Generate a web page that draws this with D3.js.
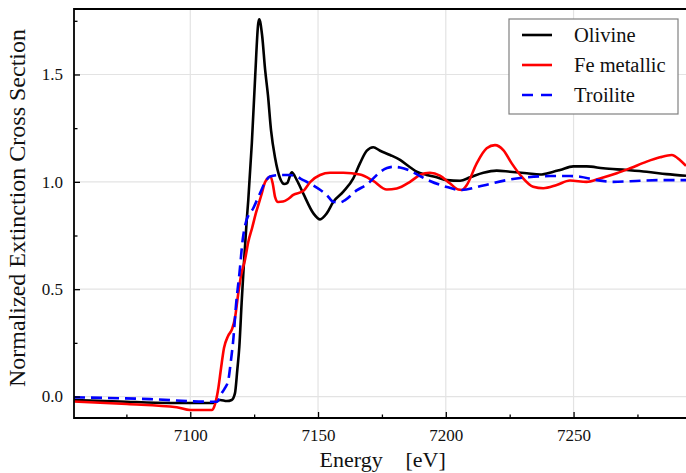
<!DOCTYPE html>
<html><head><meta charset="utf-8">
<script src="https://cdn.jsdelivr.net/npm/d3@7/dist/d3.min.js"></script>
<style>body{margin:0;background:#fff} svg{display:block}</style>
</head><body><svg id="c" width="686" height="473"></svg>
<script>
const olivineE = [7054.5,7072.5,7092.1,7103.8,7108.9,7111.7,7114.3,7116.2,7117.5,7118.4,7119.2,7120.1,7121.0,7122.1,7122.7,7124.1,7125.4,7126.6,7127.0,7128.1,7129.3,7130.4,7131.6,7133.2,7135.1,7136.8,7137.9,7139.7,7141.7,7144.2,7148.2,7150.8,7153.4,7156.0,7159.9,7163.8,7166.4,7169.1,7171.6,7174.3,7178.2,7182.1,7186.0,7188.6,7192.5,7196.4,7200.4,7205.6,7209.5,7214.7,7219.9,7225.1,7231.7,7236.9,7242.1,7244.7,7249.9,7255.1,7261.6,7270.8,7278.6,7286.4,7294.0];
const olivineV = [-0.016,-0.023,-0.030,-0.030,-0.030,-0.016,-0.021,-0.016,0.016,0.123,0.232,0.436,0.622,0.822,0.915,1.181,1.490,1.738,1.757,1.684,1.521,1.404,1.241,1.111,1.018,0.990,0.994,1.044,1.008,0.946,0.853,0.825,0.853,0.907,0.954,1.016,1.086,1.145,1.161,1.145,1.125,1.102,1.068,1.047,1.032,1.021,1.008,1.005,1.021,1.042,1.052,1.047,1.040,1.034,1.047,1.055,1.072,1.072,1.063,1.055,1.047,1.036,1.028];
const feE = [7054.5,7075.2,7094.7,7099.9,7108.4,7109.7,7111.0,7112.05,7113.2,7114.8,7116.35,7117.5,7118.7,7119.9,7121.4,7122.7,7124.2,7125.7,7127.7,7129.3,7130.4,7131.4,7132.3,7133.2,7134.35,7136.3,7138.3,7140.3,7144.2,7146.9,7150.8,7154.7,7159.9,7166.4,7171.6,7176.9,7180.8,7186.0,7189.9,7193.8,7197.7,7201.6,7204.9,7206.3,7208.2,7212.1,7216.0,7219.25,7222.5,7225.8,7229.7,7234.2,7238.15,7243.4,7248.6,7255.1,7260.3,7266.9,7272.1,7278.6,7283.8,7288.4,7291.6,7294.0];
const feV = [-0.023,-0.035,-0.050,-0.063,-0.063,-0.035,0.040,0.133,0.226,0.282,0.314,0.366,0.473,0.566,0.636,0.720,0.785,0.855,0.934,0.999,1.018,1.025,0.990,0.929,0.906,0.908,0.920,0.939,0.957,0.999,1.032,1.042,1.042,1.034,1.004,0.964,0.969,1.000,1.032,1.042,1.029,0.993,0.964,0.962,0.985,1.086,1.156,1.171,1.148,1.086,1.024,0.977,0.970,0.985,1.006,1.000,1.016,1.040,1.063,1.094,1.114,1.125,1.102,1.074];
const troiliteE = [7054.5,7084.3,7106.5,7110.4,7112.3,7113.6,7114.9,7115.85,7116.9,7117.9,7119.3,7120.5,7121.8,7124.7,7127.3,7129.3,7131.2,7135.1,7139.0,7141.7,7144.2,7146.9,7149.5,7153.4,7156.0,7158.6,7160.6,7165.1,7169.1,7170.3,7174.3,7177.0,7179.5,7182.1,7186.0,7189.9,7193.8,7200.4,7205.6,7214.7,7223.8,7231.7,7240.8,7248.6,7252.5,7259.0,7265.5,7276.0,7283.8,7294.0];
const troiliteV = [-0.004,-0.012,-0.024,-0.024,0.016,0.040,0.077,0.161,0.273,0.426,0.580,0.729,0.813,0.878,0.947,0.999,1.025,1.032,1.032,1.024,1.008,0.992,0.973,0.939,0.907,0.904,0.915,0.960,0.988,1.000,1.046,1.064,1.070,1.067,1.052,1.027,1.004,0.976,0.962,0.983,1.008,1.021,1.027,1.027,1.024,1.008,1.000,1.005,1.008,1.008];

const seriesNames = ["Olivine", "Fe metallic", "Troilite"];
const seriesColors = ["#000000", "#ff0000", "#0000ff"];
const xMajorTicks = [7100, 7150, 7200, 7250];
const xMinorTicks = [7075, 7125, 7175, 7225, 7275];
const yMajorTicks = [0.0, 0.5, 1.0, 1.5];
const yMinorTicks = [0.25, 0.75, 1.25, 1.75];
const xTitle = ["Energy", "[eV]"];
const yTitle = "Normalized Extinction Cross Section";

const series = [
  {name: seriesNames[0], color: seriesColors[0], dash: null, pts: olivineE.map((e,i)=>[e, olivineV[i]])},
  {name: seriesNames[1], color: seriesColors[1], dash: null, pts: feE.map((e,i)=>[e, feV[i]])},
  {name: seriesNames[2], color: seriesColors[2], dash: "11,6", pts: troiliteE.map((e,i)=>[e, troiliteV[i]])}
];

const svg = d3.select("#c");
const L = 74, R = 686, T = 9, B = 418;
const font = "'Liberation Serif', 'Times New Roman', serif";
const x = d3.scaleLinear().domain([7054.5, 7294.0]).range([L, R]);
const y = d3.scaleLinear().domain([-0.1, 1.805]).range([B, T]);

// grid
const grid = svg.append("g");
grid.selectAll("line.gx").data(xMajorTicks).join("line")
  .attr("x1", d=>x(d)).attr("x2", d=>x(d)).attr("y1", T).attr("y2", B)
  .attr("stroke", "#e3e3e3").attr("stroke-width", 1.2);
grid.selectAll("line.gy").data(yMajorTicks).join("line")
  .attr("x1", L).attr("x2", R).attr("y1", d=>y(d)).attr("y2", d=>y(d))
  .attr("stroke", "#e3e3e3").attr("stroke-width", 1.2);

svg.append("clipPath").attr("id", "clip").append("rect")
  .attr("x", L).attr("y", T).attr("width", R - L).attr("height", B - T);

const line = d3.line().x(d=>x(d[0])).y(d=>y(d[1])).curve(d3.curveMonotoneX);
const lines = svg.append("g").attr("clip-path", "url(#clip)");
series.forEach(s => {
  lines.append("path").datum(s.pts).attr("d", line)
    .attr("fill", "none").attr("stroke", s.color).attr("stroke-width", 2.6)
    .attr("stroke-linejoin", "round")
    .attr("stroke-dasharray", s.dash);
});

// axes (ticks inward)
const xAxis = d3.axisBottom(x).tickValues(xMajorTicks).tickSize(-6).tickPadding(11).tickFormat(d3.format("d"));
const xAxisMinor = d3.axisBottom(x).tickValues(xMinorTicks).tickSize(-3.5).tickFormat("");
const yAxis = d3.axisLeft(y).tickValues(yMajorTicks).tickSize(-6).tickPadding(11).tickFormat(d3.format(".1f"));
const yAxisMinor = d3.axisLeft(y).tickValues(yMinorTicks).tickSize(-3.5).tickFormat("");

function style(g) {
  g.select(".domain").remove();
  g.selectAll("line").attr("stroke", "#000").attr("stroke-width", 1.3);
  g.selectAll("text").attr("font-family", font).attr("font-size", 17).attr("fill", "#111");
}
svg.append("g").attr("transform", `translate(0,${B})`).call(xAxis).call(style);
svg.append("g").attr("transform", `translate(0,${B})`).call(xAxisMinor).call(style);
svg.append("g").attr("transform", `translate(${L},0)`).call(yAxis).call(style);
svg.append("g").attr("transform", `translate(${L},0)`).call(yAxisMinor).call(style);

// spines
svg.append("path").attr("d", `M${R+2},${T}H${L}V${B}H${R+2}`)
  .attr("fill", "none").attr("stroke", "#000").attr("stroke-width", 1.8);

// axis titles
svg.append("text").attr("x", 319.6).attr("y", 467).attr("font-family", font).attr("font-size", 22)
  .attr("fill", "#111").text(xTitle[0]);
svg.append("text").attr("x", 405.5).attr("y", 467).attr("font-family", font).attr("font-size", 22)
  .attr("fill", "#111").text(xTitle[1]);
svg.append("text").attr("transform", "translate(25,208) rotate(-90)").attr("text-anchor", "middle")
  .attr("font-family", font).attr("font-size", 24).attr("fill", "#111").text(yTitle);

// legend
const lg = svg.append("g");
lg.append("rect").attr("x", 509).attr("y", 19).attr("width", 169).attr("height", 95)
  .attr("fill", "#fff").attr("stroke", "#808080").attr("stroke-width", 1.2);
series.forEach((s, i) => {
  const yy = 35 + i * 30;
  lg.append("line").attr("x1", 522).attr("x2", 552).attr("y1", yy).attr("y2", yy)
    .attr("stroke", s.color).attr("stroke-width", 2.6).attr("stroke-dasharray", s.dash ? "11,8" : null);
  lg.append("text").attr("x", 574).attr("y", yy).attr("dy", "0.35em")
    .attr("font-family", font).attr("font-size", 20.5).attr("fill", "#111").text(s.name);
});
</script></body></html>
